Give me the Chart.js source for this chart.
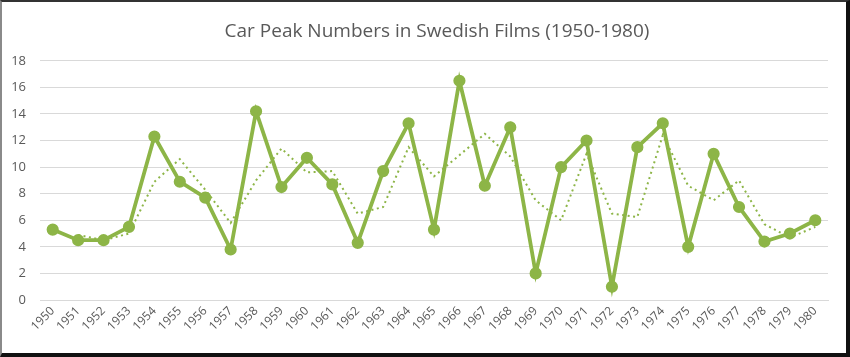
<!DOCTYPE html>
<html>
<head>
<meta charset="utf-8">
<script src="https://cdn.jsdelivr.net/npm/chart.js@4"></script>
<style>
html,body{margin:0;padding:0;background:#fff;}
#frame{position:absolute;left:0;top:0;width:844px;height:351px;border-top:2px solid #333;border-left:2px solid #8a8a8a;border-right:4px solid #111;border-bottom:4px solid #111;background:#fff;}
canvas{display:block;}
</style>
</head>
<body>
<div id="frame"><canvas id="c" width="844" height="351"></canvas></div>
<script>
const years = ['1950','1951','1952','1953','1954','1955','1956','1957','1958','1959','1960','1961','1962','1963','1964','1965','1966','1967','1968','1969','1970','1971','1972','1973','1974','1975','1976','1977','1978','1979','1980'];
const carPeaks = [5.3,4.5,4.5,5.5,12.3,8.9,7.7,3.8,14.2,8.5,10.7,8.7,4.3,9.7,13.3,5.3,16.5,8.6,13.0,2.0,10.0,12.0,1.0,11.5,13.3,4.0,11.0,7.0,4.4,5.0,6.0];
const trendLine = [null,4.9,4.5,5.0,8.9,10.6,8.3,5.8,9.0,11.4,9.6,9.7,6.5,7.0,11.5,9.3,10.9,12.5,10.8,7.5,6.0,11.0,6.5,6.25,12.4,8.6,7.5,9.0,5.7,4.7,5.5];
const yTicks = [0,2,4,6,8,10,12,14,16,18];

const green = '#8db547';
const txt = '#595959';
const fontFam = "'Open Sans', 'Liberation Sans', sans-serif";

const shiftTitle = {
  id: 'shiftTitle',
  afterLayout(chart) {
    const tb = chart.titleBlock;
    if (tb) { tb.left += 22; tb.right += 22; }
  }
};

new Chart(document.getElementById('c'), {
  type: 'line',
  data: {
    labels: years,
    datasets: [
      {
        label: 'Car peaks',
        data: carPeaks,
        borderColor: green,
        backgroundColor: green,
        borderWidth: 3.8,
        pointRadius: 4.2,
        pointHoverRadius: 4.2,
        pointBackgroundColor: green,
        pointBorderColor: green,
        tension: 0,
        order: 1
      },
      {
        label: 'Trend',
        data: trendLine,
        borderColor: green,
        borderWidth: 2,
        borderDash: [2, 3.5],
        pointRadius: 0,
        tension: 0,
        spanGaps: false,
        order: 2
      }
    ]
  },
  plugins: [shiftTitle],
  options: {
    responsive: false,
    animation: false,
    devicePixelRatio: 1,
    layout: { padding: { left: 0, right: 18, top: 0, bottom: 0 } },
    plugins: {
      legend: { display: false },
      tooltip: { enabled: false },
      title: {
        display: true,
        text: 'Car Peak Numbers in Swedish Films (1950-1980)',
        color: txt,
        font: { family: fontFam, size: 19, weight: 'normal' },
        padding: { top: 18, bottom: 18 }
      }
    },
    scales: {
      x: {
        offset: true,
        grid: { display: false, drawTicks: false },
        border: { display: true, color: '#d9d9d9', width: 1 },
        ticks: {
          color: txt,
          font: { family: fontFam, size: 12 },
          minRotation: 45,
          maxRotation: 45,
          autoSkip: false,
          padding: 4
        },
        afterFit: (s) => { s.height = 53; }
      },
      y: {
        min: 0,
        max: 18,
        afterBuildTicks: (s) => { s.ticks = yTicks.map(v => ({ value: v })); },
        grid: { color: '#d9d9d9', drawTicks: false, lineWidth: 1 },
        border: { display: false },
        ticks: {
          color: txt,
          font: { family: fontFam, size: 13 },
          padding: 14
        },
        afterFit: (s) => { s.width = 38; }
      }
    }
  }
});
</script>
</body>
</html>
